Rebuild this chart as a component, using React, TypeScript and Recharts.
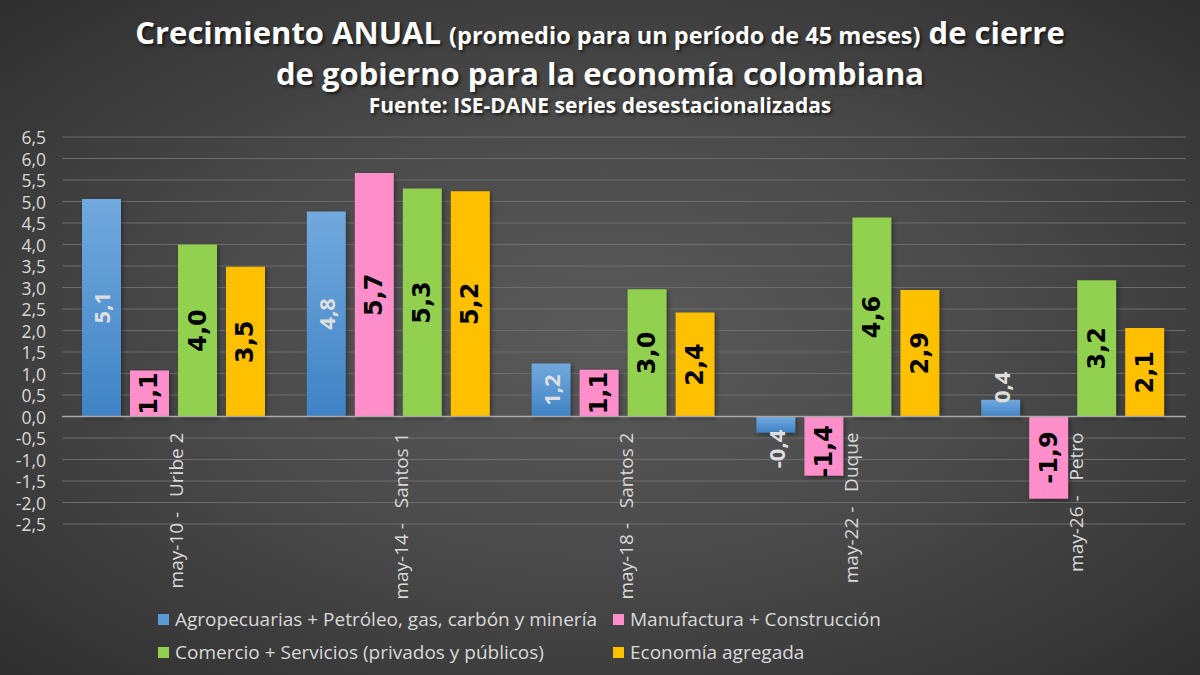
import React from 'react';
import { BarChart, Bar, XAxis, YAxis, CartesianGrid, ReferenceLine, LabelList } from 'recharts';

// categorías (cierre de gobierno)
const periodos = ['may-10 -   Uribe 2', 'may-14 -   Santos 1', 'may-18 -   Santos 2', 'may-22 -   Duque', 'may-26 -   Petro'];

// valores (%)
const agro = [5.06, 4.77, 1.23, -0.38, 0.39];
const manufactura = [1.07, 5.66, 1.09, -1.38, -1.91];
const comercio = [4.0, 5.3, 2.96, 4.63, 3.17];
const economia = [3.48, 5.24, 2.42, 2.94, 2.06];

const yTicks = [-2.5, -2.0, -1.5, -1.0, -0.5, 0, 0.5, 1.0, 1.5, 2.0, 2.5, 3.0, 3.5, 4.0, 4.5, 5.0, 5.5, 6.0, 6.5];

const series = [
  { key: 'agro', name: 'Agropecuarias + Petróleo, gas, carbón y minería', color: '#5b9bd5', fill: 'url(#blueGrad)', labelColor: '#dedede', labelFont: '"Open Sans", sans-serif', labelSize: 22 },
  { key: 'manufactura', name: 'Manufactura + Construcción', color: '#ff8fcb', fill: '#ff8fcb', labelColor: '#000', labelFont: '"DejaVu Sans", sans-serif', labelSize: 24 },
  { key: 'comercio', name: 'Comercio + Servicios (privados y públicos)', color: '#92d050', fill: '#92d050', labelColor: '#000', labelFont: '"DejaVu Sans", sans-serif', labelSize: 24 },
  { key: 'economia', name: 'Economía agregada', color: '#ffc000', fill: '#ffc000', labelColor: '#000', labelFont: '"DejaVu Sans", sans-serif', labelSize: 24 },
];

const data = periodos.map((p, i) => ({
  periodo: p,
  agro: agro[i],
  manufactura: manufactura[i],
  comercio: comercio[i],
  economia: economia[i],
}));

const W = 1200;
const H = 675;
const TOP = 137;
const BOTTOM = 121;
const XAXIS_H = 30;
const PLOT_H = H - TOP - BOTTOM - XAXIS_H;
const Y_MIN = -2.5;
const Y_MAX = 6.5;
const ZERO_Y = TOP + (PLOT_H * Y_MAX) / (Y_MAX - Y_MIN);

const fmt = (v: number) => v.toFixed(1).replace('.', ',');

const makeLabel = (s: typeof series[number]) => (props: any) => {
  const { x, y, width, height, value } = props;
  const top = Math.min(y, y + height);
  const bottom = Math.max(y, y + height);
  const h = bottom - top;
  const txt = fmt(value);
  const len = txt.length * s.labelSize * 0.58;
  const cx = x + width / 2;
  let cy = (top + bottom) / 2;
  // etiquetas que no caben: se corren hacia afuera del cero
  if (h < len + 4) {
    cy = value >= 0 ? bottom - len / 2 - 10 : top + len / 2 + 7;
  }
  return (
    <text
      x={cx}
      y={cy}
      transform={`rotate(-90, ${cx}, ${cy})`}
      textAnchor="middle"
      dominantBaseline="central"
      fill={s.labelColor}
      fontFamily={s.labelFont}
      fontWeight="bold"
      fontSize={s.labelSize}
    >
      {txt}
    </text>
  );
};

const CatTick = (props: any) => {
  const { x, payload } = props;
  const ty = ZERO_Y + 16;
  const tx = x + 2;
  return (
    <text
      x={tx}
      y={ty}
      transform={`rotate(-90, ${tx}, ${ty})`}
      textAnchor="end"
      dominantBaseline="central"
      fill="#d9d9d9"
      fontSize={19}
      fontFamily='"Open Sans", sans-serif'
      style={{ whiteSpace: 'pre' }}
    >
      {payload.value}
    </text>
  );
};

const YTick = (props: any) => {
  const { x, y, payload } = props;
  return (
    <text x={x} y={y} textAnchor="end" dominantBaseline="central" fill="#d9d9d9" fontSize={17.5} fontFamily='"Open Sans", sans-serif'>
      {fmt(payload.value)}
    </text>
  );
};

const App = () => {
  return (
    <div
      style={{
        position: 'absolute',
        left: 0,
        top: 0,
        width: W,
        height: H,
        overflow: 'hidden',
        background: 'radial-gradient(ellipse at 50% 50%, #5a5a5a 0%, #4b4b4b 45%, #2f2f2f 100%)',
        fontFamily: '"Open Sans", sans-serif',
      }}
    >
      <div
        style={{
          position: 'absolute',
          top: 12,
          left: 0,
          width: W,
          textAlign: 'center',
          color: '#fff',
          fontWeight: 'bold',
          textShadow: '2px 2px 3px rgba(0,0,0,0.6)',
        }}
      >
        <div style={{ fontSize: 31, lineHeight: '40px' }}>
          Crecimiento ANUAL <span style={{ fontSize: 23.5 }}>(promedio para un período de 45 meses)</span> de cierre
        </div>
        <div style={{ fontSize: 31, lineHeight: '37px' }}>de gobierno para la economía colombiana</div>
        <div style={{ fontSize: 21, lineHeight: '26px' }}>Fuente: ISE-DANE series desestacionalizadas</div>
      </div>

      <BarChart
        width={W}
        height={H}
        data={data}
        margin={{ top: TOP, right: 14, bottom: BOTTOM, left: 0 }}
        barGap={9}
        barCategoryGap={20}
        style={{ position: 'absolute', left: 0, top: 0 }}
      >
        <defs>
          <linearGradient id="blueGrad" x1="0" y1="0" x2="0" y2="1">
            <stop offset="0%" stopColor="#72a9de" />
            <stop offset="100%" stopColor="#3f83c5" />
          </linearGradient>
        </defs>
        <CartesianGrid vertical={false} stroke="#6c6c6c" strokeWidth={1} />
        <XAxis dataKey="periodo" height={XAXIS_H} axisLine={false} tickLine={false} tick={<CatTick />} interval={0} />
        <YAxis
          width={62}
          domain={[Y_MIN, Y_MAX]}
          ticks={yTicks}
          axisLine={false}
          tickLine={false}
          tickMargin={10}
          tick={<YTick />}
          interval={0}
        />
        <ReferenceLine y={0} stroke="#a9a9a9" strokeWidth={1.5} />
        {series.map((s) => (
          <Bar
            key={s.key}
            dataKey={s.key}
            name={s.name}
            fill={s.fill}
            isAnimationActive={false}
            style={{ filter: 'drop-shadow(2px 2px 2px rgba(0,0,0,0.35))' }}
          >
            <LabelList dataKey={s.key} content={makeLabel(s)} />
          </Bar>
        ))}
      </BarChart>

      <div
        style={{
          position: 'absolute',
          left: 158,
          top: 607,
          display: 'grid',
          gridTemplateColumns: '455px auto',
          rowGap: 9,
          color: '#d9d9d9',
          fontSize: 19,
        }}
      >
        {series.map((s) => (
          <div key={s.key} style={{ display: 'flex', alignItems: 'center', height: 24, whiteSpace: 'nowrap' }}>
            <span style={{ display: 'inline-block', width: 11, height: 11, background: s.color, marginRight: 6 }} />
            {s.name}
          </div>
        ))}
      </div>
    </div>
  );
};

export default App;
